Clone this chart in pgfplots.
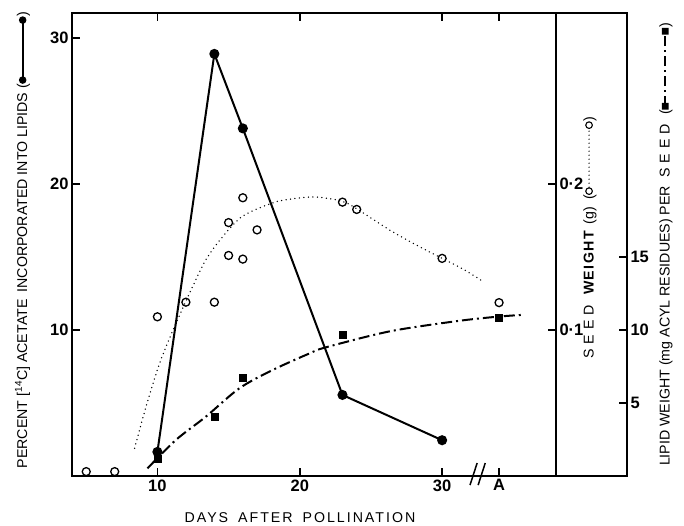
\documentclass[border=0pt]{standalone}
\usepackage{pgfplots}
\pgfplotsset{compat=1.18}
\usepackage{fontspec}
\setmainfont{Liberation Sans}

\newcommand{\lblfont}{\fontsize{14.2}{16}\selectfont}
\newcommand{\tickfont}{\bfseries\fontsize{16.5}{18}\selectfont}
\newcommand{\spaced}[2]{{\addfontfeature{LetterSpace=#1}#2}}

% little legend keys set inside the axis labels
\newcommand{\keysolid}{\tikz[baseline=-0.6ex]{\draw[line width=1.8pt] (0,0) -- (60pt,0);
  \fill (0,0) circle (3.8pt) (60pt,0) circle (3.8pt);}}
\newcommand{\keydotted}{\tikz[baseline=-0.6ex]{\draw[line width=1.4pt, line cap=round, dash pattern=on 0pt off 4pt] (4pt,0) -- (62pt,0);
  \draw[line width=1.1pt, fill=white] (0,0) circle (3.3pt) (66pt,0) circle (3.3pt);}}
\newcommand{\keydash}{\tikz[baseline=-0.6ex]{\draw[line width=1.8pt, dash pattern=on 10pt off 4pt on 2pt off 4pt] (0,0) -- (75pt,0);
  \fill (-3.4pt,-3.4pt) rectangle ++(6.8pt,6.8pt) (71.6pt,-3.4pt) rectangle ++(6.8pt,6.8pt);}}

\begin{document}
\begin{tikzpicture}
\path[use as bounding box] (0pt,0pt) rectangle (684pt,525pt);
\pgfplotsset{
  frame/.style={scale only axis, height=463pt, ymin=0, ymax=31.7,
    axis line style={line width=1.9pt}, tick style={line width=1.6pt, black},
    major tick length=8pt, tick align=inside,
    tick label style={font=\tickfont}, label style={font=\lblfont}},
}
% main panel
\begin{axis}[frame, at={(72pt,49pt)}, anchor=south west, width=484pt,
  xmin=4, xmax=38, clip=false,
  xtick={10,20,30,34}, xticklabels={10,20,30,A},
  xtick pos=both, xticklabel pos=bottom,
  ytick={10,20,30}, yticklabels={10,20,30}, ytick pos=left,
  xlabel={\spaced{14}{DAYS\hspace{4pt} AFTER\hspace{4pt} POLLINATION}},
  xlabel style={at={(axis description cs:0.471,-0.089)}, anchor=center},
  ylabel={PERCENT [\textsuperscript{14}C] ACETATE\hspace{3pt} INCORPORATED INTO LIPIDS (\keysolid)},
  ylabel style={at={(axis description cs:-0.102,0.51)}, anchor=center}]

% seed weight, fitted curve
\addplot[line width=1.5pt, line cap=round, dash pattern=on 0pt off 4.5pt, smooth, tension=0.5]
  coordinates {(8.4,1.9)(9.2,4.75)(10.15,7.7)(11.1,10.0)(12.25,12.5)(13.4,14.8)
  (14.6,16.4)(16,17.8)(18.1,18.7)(19.3,18.95)(20.7,19.1)(21.6,19.06)(23,18.8)
  (24,18.3)(26.3,16.85)(28.6,15.6)(31.4,14.2)(32.8,13.36)};
% lipid weight, fitted curve
\addplot[line width=2pt, dash pattern=on 11pt off 4pt on 2pt off 4pt, smooth]
  coordinates {(9.3,0.52)(11.3,2.47)(13.4,4.06)(15.75,6.0)(18.1,7.26)(20.7,8.4)
  (21.8,8.8)(26.3,9.9)(31,10.6)(33.8,10.9)(35.6,11.03)};
% seed weight
\addplot[only marks, mark=o, mark size=4pt, mark options={line width=1.3pt}]
  coordinates {(5,0.3)(7,0.3)(10,10.9)(12,11.9)(14,11.9)(15,17.35)(15,15.1)
  (16,19.05)(16,14.85)(17,16.85)(23,18.75)(24,18.25)(30,14.9)(34,11.87)};
% 14C acetate incorporated
\addplot[line width=2pt, mark=*, mark size=4pt]
  coordinates {(10,1.65)(14,28.9)(16,23.8)(23,5.55)(30,2.45)};
% lipid weight
\addplot[only marks, mark=square*, mark size=3.5pt]
  coordinates {(10,1.2)(14,4.06)(16,6.7)(23,9.66)(34,10.87)};

% axis break
\draw[line width=1.5pt] (axis cs:31.96,-0.62) -- (axis cs:32.46,0.89)
  (axis cs:32.53,-0.62) -- (axis cs:33.03,0.89);
\end{axis}

% seed weight scale on the inner line
\begin{axis}[frame, at={(72pt,49pt)}, anchor=south west, width=484pt,
  xmin=4, xmax=38, hide x axis, axis y line*=right,
  ytick={10,20}, yticklabels={0·1,0·2},
  ylabel={\spaced{35}{SEED}\hspace{10pt}{\bfseries\spaced{10}{WEIGHT}}\hspace{7pt}(g)\hspace{7pt}(\keydotted)},
  ylabel style={at={(axis description cs:1.07,0.515)}, anchor=center}]
\end{axis}

% lipid weight scale
\begin{axis}[frame, at={(556pt,49pt)}, anchor=south west, width=71pt,
  xmin=38, xmax=43, xtick=\empty,
  ytick={5,10,15}, yticklabels={5,10,15}, ytick pos=right, yticklabel pos=right,
  ylabel={LIPID WEIGHT (mg ACYL RESIDUES) PER\hspace{8pt}\spaced{35}{SEED}\hspace{10pt}(\keydash)},
  ylabel style={at={(axis description cs:1.55,0.5)}, anchor=center}]
\end{axis}
\end{tikzpicture}
\end{document}
